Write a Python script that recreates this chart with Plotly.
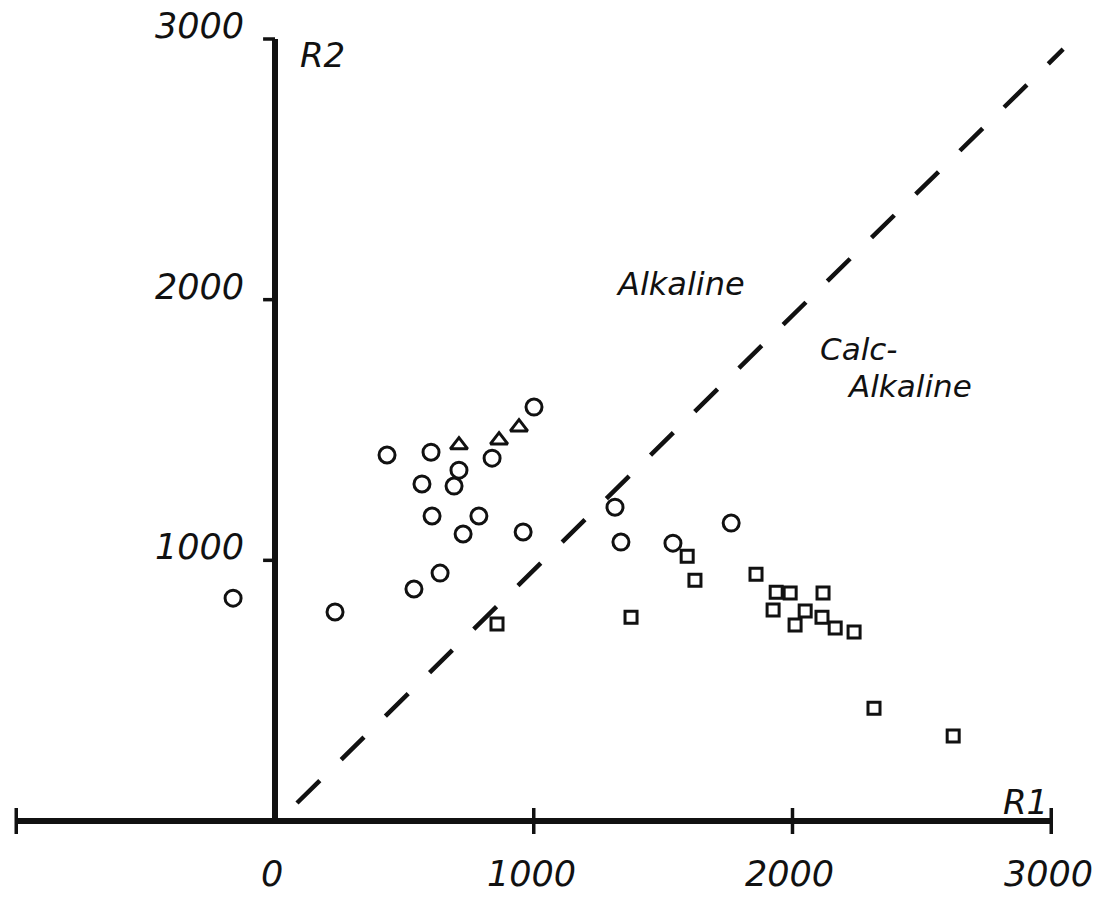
import plotly.graph_objects as go

# R1 / R2 discriminant values, one pair of lists per symbol group
circle_r1 = [-162, 232, 433, 603, 711, 568, 692, 839, 1001, 607, 788, 727,
             959, 638, 537, 1314, 1337, 1538, 1763]
circle_r2 = [855, 802, 1404, 1415, 1346, 1293, 1285, 1392, 1588, 1170, 1170,
             1101, 1109, 951, 890, 1204, 1070, 1066, 1143]

triangle_r1 = [711, 866, 943]
triangle_r2 = [1442, 1461, 1511]

square_r1 = [858, 1376, 1593, 1623, 1859, 1937, 1991, 2118, 1925, 2049, 2114,
             2010, 2165, 2238, 2315, 2621]
square_r2 = [756, 782, 1016, 924, 947, 878, 875, 875, 809, 806, 782, 752,
             740, 725, 433, 326]

# Alkaline / calc-alkaline dividing line
boundary_r1 = [85, 3046]
boundary_r2 = [69, 2961]

# Axis extents, tick positions and tick labels
r1_axis = [-1000, 3000]
r2_axis = [0, 3000]
r1_tick_marks = [-1000, 1000, 2000, 3000]
r1_label_vals = [0, 1000, 2000, 3000]
r1_label_text = ["0", "1000", "2000", "3000"]
r2_tick_marks = [1000, 2000, 3000]
r2_label_text = ["1000", "2000", "3000"]

INK = "#111111"
FONT = dict(family="DejaVu Sans", color=INK, style="italic")

fig = go.Figure()

# axis lines
fig.add_trace(go.Scatter(x=r1_axis, y=[0, 0], mode="lines",
                         line=dict(color=INK, width=6), hoverinfo="skip"))
fig.add_trace(go.Scatter(x=[0, 0], y=r2_axis, mode="lines",
                         line=dict(color=INK, width=6), hoverinfo="skip"))

# tick marks: R1 ticks cross the axis, R2 ticks point left
tx, ty = [], []
for v in r1_tick_marks:
    tx += [v, v, None]
    ty += [-50, 50, None]
fig.add_trace(go.Scatter(x=tx, y=ty, mode="lines",
                         line=dict(color=INK, width=3.5), hoverinfo="skip"))
ux, uy = [], []
for v in r2_tick_marks:
    ux += [-46, 0, None]
    uy += [v, v, None]
fig.add_trace(go.Scatter(x=ux, y=uy, mode="lines",
                         line=dict(color=INK, width=3.5), hoverinfo="skip"))

# dividing line
fig.add_trace(go.Scatter(x=boundary_r1, y=boundary_r2, mode="lines",
                         line=dict(color=INK, width=4.5, dash="32px,30px"),
                         hoverinfo="skip"))

# samples
fig.add_trace(go.Scatter(x=circle_r1, y=circle_r2, mode="markers",
                         marker=dict(symbol="circle-open", size=16, color=INK,
                                     line=dict(width=3))))
fig.add_trace(go.Scatter(x=triangle_r1, y=triangle_r2, mode="markers",
                         marker=dict(symbol="triangle-up-open", size=15, color=INK,
                                     line=dict(width=3))))
fig.add_trace(go.Scatter(x=square_r1, y=square_r2, mode="markers",
                         marker=dict(symbol="square-open", size=12, color=INK,
                                     line=dict(width=3))))

annotations = []
for v, t in zip(r1_label_vals, r1_label_text):
    annotations.append(dict(x=v - 10, y=-203, text=t, showarrow=False,
                            xanchor="center", yanchor="middle",
                            font=dict(size=35, **FONT)))
for v, t in zip(r2_tick_marks, r2_label_text):
    annotations.append(dict(x=-112, y=v + 50, text=t, showarrow=False,
                            xanchor="right", yanchor="middle",
                            font=dict(size=35, **FONT)))

labels = [
    dict(x=89, y=2939, text="R2", xanchor="left", size=34),
    dict(x=2995, y=72, text="R1", xanchor="right", size=34),
    dict(x=1569, y=2060, text="Alkaline", xanchor="center", size=32),
    dict(x=2099, y=1811, text="Calc-", xanchor="left", size=31),
    dict(x=2203, y=1669, text="Alkaline", xanchor="left", size=31),
]
for lab in labels:
    annotations.append(dict(x=lab["x"], y=lab["y"], text=lab["text"],
                            xanchor=lab["xanchor"], yanchor="middle",
                            showarrow=False,
                            font=dict(size=lab["size"], **FONT)))

fig.update_layout(
    width=1104, height=901,
    margin=dict(l=0, r=0, t=0, b=0),
    paper_bgcolor="white", plot_bgcolor="white",
    showlegend=False,
    xaxis=dict(range=[-1062.8, 3203.9], visible=False, fixedrange=True),
    yaxis=dict(range=[-306.9, 3149.6], visible=False, fixedrange=True),
    annotations=annotations,
)

fig.write_html("out.html")
